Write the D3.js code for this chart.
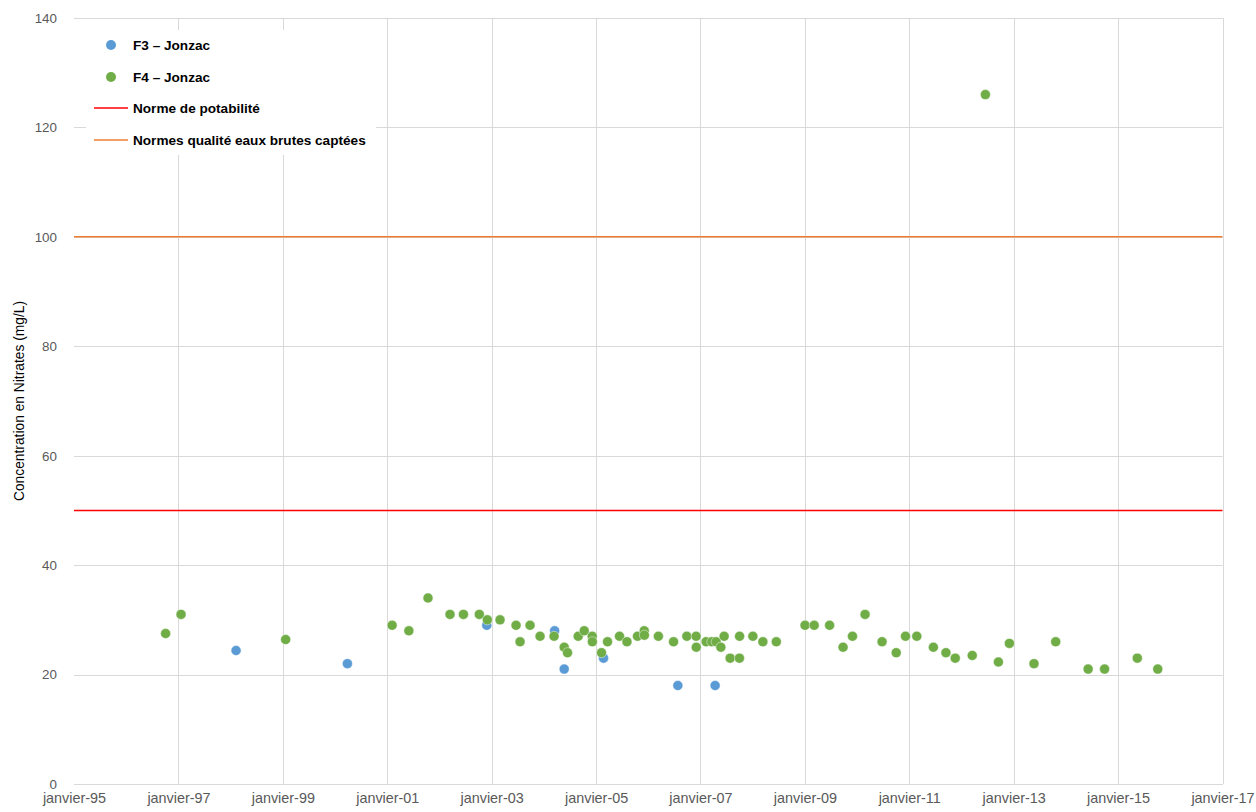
<!DOCTYPE html>
<html>
<head>
<meta charset="utf-8">
<script src="https://cdn.jsdelivr.net/npm/d3@7"></script>
<style>
  html, body { margin: 0; padding: 0; background: #fff; }
  svg { display: block; font-family: "Liberation Sans", Arial, sans-serif; }
  .tick-label { fill: #595959; }
  .legend-text { fill: #000; font-size: 13.6px; font-weight: bold; }
</style>
</head>
<body>
<div id="chart"></div>
<script>
// F3 - Jonzac samples
var f3Dates = ["1998-02-08", "2000-03-28", "2002-11-28", "2004-03-17", "2004-05-23",
  "2005-02-22", "2006-07-27", "2007-04-14"];
var f3Values = [24.4, 22, 29, 28, 21, 23, 18, 18];

// F4 - Jonzac samples
var f4Dates = ["1996-10-03", "1997-01-19", "1999-01-21", "2001-02-04", "2001-06-01",
  "2001-10-13", "2002-03-16", "2002-06-18", "2002-10-07", "2002-12-02",
  "2003-03-01", "2003-06-21", "2003-07-19", "2003-09-27", "2003-12-06",
  "2004-03-13", "2004-05-23", "2004-06-15", "2004-08-29", "2004-10-10",
  "2004-12-05", "2004-12-06", "2005-02-08", "2005-03-22", "2005-06-14",
  "2005-08-05", "2005-10-18", "2005-12-04", "2005-12-05", "2006-03-13",
  "2006-06-27", "2006-09-28", "2006-12-02", "2006-12-03", "2007-02-10",
  "2007-03-22", "2007-04-21", "2007-05-24", "2007-06-16", "2007-07-28",
  "2007-10-01", "2007-10-02", "2008-01-03", "2008-03-13", "2008-06-15",
  "2009-01-02", "2009-03-07", "2009-06-23", "2009-09-25", "2009-11-30",
  "2010-02-26", "2010-06-25", "2010-10-02", "2010-12-06", "2011-02-23",
  "2011-06-19", "2011-09-15", "2011-11-19", "2012-03-17", "2012-06-17",
  "2012-09-16", "2012-12-02", "2013-05-23", "2013-10-22", "2014-06-06",
  "2014-09-29", "2015-05-16", "2015-10-06"];
var f4Values = [27.5, 31, 26.4, 29, 28,
  34, 31, 31, 31, 30,
  30, 29, 26, 29, 27,
  27, 25, 24, 27, 28,
  27, 26, 24, 26, 27,
  26, 27, 28, 27.2, 27,
  26, 27, 27, 25, 26,
  26, 26, 25, 27, 23,
  23, 27, 27, 26, 26,
  29, 29, 29, 25, 27,
  31, 26, 24, 27, 27,
  25, 24, 23, 23.5, 126,
  22.3, 25.7, 22, 26, 21,
  21, 23, 21];

// reference lines
var normNames = ["Norme de potabilité", "Normes qualité eaux brutes captées"];
var normValues = [50, 100];
var normColors = ["#FF0000", "#ED7D31"];

var yTicks = [0, 20, 40, 60, 80, 100, 120, 140];
var xTickDates = ["1995-01-01", "1997-01-01", "1999-01-01", "2001-01-01", "2003-01-01",
  "2005-01-01", "2007-01-01", "2009-01-01", "2011-01-01", "2013-01-01",
  "2015-01-01", "2017-01-01"];

var seriesNames = ["F3 – Jonzac", "F4 – Jonzac"];
var seriesColors = ["#5B9BD5", "#70AD47"];

var parseDate = d3.timeParse("%Y-%m-%d");
var fmtYear = d3.timeFormat("%y");

var W = 1256, H = 812;
var margin = {top: 18, right: 33.5, bottom: 28, left: 74};
var width = W - margin.left - margin.right;
var height = H - margin.top - margin.bottom;

var svg = d3.select("#chart").append("svg")
  .attr("width", W)
  .attr("height", H);

var g = svg.append("g")
  .attr("transform", "translate(" + margin.left + "," + margin.top + ")");

var x = d3.scaleTime()
  .domain([parseDate(xTickDates[0]), parseDate(xTickDates[xTickDates.length - 1])])
  .range([0, width]);

var y = d3.scaleLinear()
  .domain([0, 140])
  .range([height, 0]);

// grid
g.append("g")
  .selectAll("line")
  .data(yTicks)
  .enter().append("line")
  .attr("x1", 0).attr("x2", width)
  .attr("y1", function(d) { return Math.round(y(d)) + 0.5; })
  .attr("y2", function(d) { return Math.round(y(d)) + 0.5; })
  .attr("stroke", "#D9D9D9")
  .attr("stroke-width", 1);

g.append("g")
  .selectAll("line")
  .data(xTickDates.slice(1))
  .enter().append("line")
  .attr("x1", function(d) { return Math.round(x(parseDate(d))) + 0.5; })
  .attr("x2", function(d) { return Math.round(x(parseDate(d))) + 0.5; })
  .attr("y1", 0).attr("y2", height)
  .attr("stroke", "#D9D9D9")
  .attr("stroke-width", 1);

// axes (labels only, lines drawn by grid)
var yAxis = g.append("g")
  .call(d3.axisLeft(y).tickValues(yTicks).tickSize(0).tickPadding(17));
yAxis.select(".domain").remove();
yAxis.selectAll("text").attr("class", "tick-label")
  .attr("font-family", null).attr("font-size", "13.4px");
yAxis.attr("font-family", null).attr("font-size", null);

var xAxis = g.append("g")
  .attr("transform", "translate(0," + height + ")")
  .call(d3.axisBottom(x)
    .tickValues(xTickDates.map(parseDate))
    .tickSize(0).tickPadding(9)
    .tickFormat(function(d) { return "janvier-" + fmtYear(d); }));
xAxis.select(".domain").attr("stroke", "#D9D9D9");
xAxis.selectAll("text").attr("class", "tick-label")
  .attr("font-size", "14.4px");
xAxis.attr("font-family", null).attr("font-size", null);

// y title
svg.append("text")
  .attr("transform", "translate(24," + (margin.top + height / 2) + ") rotate(-90)")
  .attr("text-anchor", "middle")
  .attr("font-size", "13.8px")
  .attr("fill", "#000")
  .text("Concentration en Nitrates (mg/L)");

// threshold lines
g.append("g")
  .selectAll("line")
  .data(normValues)
  .enter().append("line")
  .attr("x1", 0).attr("x2", width)
  .attr("y1", function(d) { return y(d); })
  .attr("y2", function(d) { return y(d); })
  .attr("stroke", function(d, i) { return normColors[i]; })
  .attr("stroke-width", 1.5);

// points
function drawSeries(dates, values, color) {
  g.append("g")
    .selectAll("circle")
    .data(dates.map(function(d, i) { return {date: parseDate(d), value: values[i]}; }))
    .enter().append("circle")
    .attr("cx", function(d) { return x(d.date); })
    .attr("cy", function(d) { return y(d.value); })
    .attr("r", 5)
    .attr("fill", color)
    .attr("stroke", "#fff")
    .attr("stroke-opacity", 0.6)
    .attr("stroke-width", 0.75);
}
drawSeries(f3Dates, f3Values, seriesColors[0]);
drawSeries(f4Dates, f4Values, seriesColors[1]);

// legend
var legend = svg.append("g").attr("transform", "translate(86,30)");
legend.append("rect")
  .attr("width", 290).attr("height", 125)
  .attr("fill", "#fff");

var rowY = [15, 47, 78, 110];
seriesNames.forEach(function(name, i) {
  legend.append("circle")
    .attr("cx", 25).attr("cy", rowY[i]).attr("r", 5)
    .attr("fill", seriesColors[i]);
  legend.append("text")
    .attr("class", "legend-text")
    .attr("x", 47).attr("y", rowY[i]).attr("dy", "0.35em")
    .text(name);
});
normNames.forEach(function(name, i) {
  legend.append("line")
    .attr("x1", 8).attr("x2", 42)
    .attr("y1", rowY[i + 2]).attr("y2", rowY[i + 2])
    .attr("stroke", normColors[i]).attr("stroke-width", 1.5);
  legend.append("text")
    .attr("class", "legend-text")
    .attr("x", 47).attr("y", rowY[i + 2]).attr("dy", "0.35em")
    .text(name);
});
</script>
</body>
</html>
